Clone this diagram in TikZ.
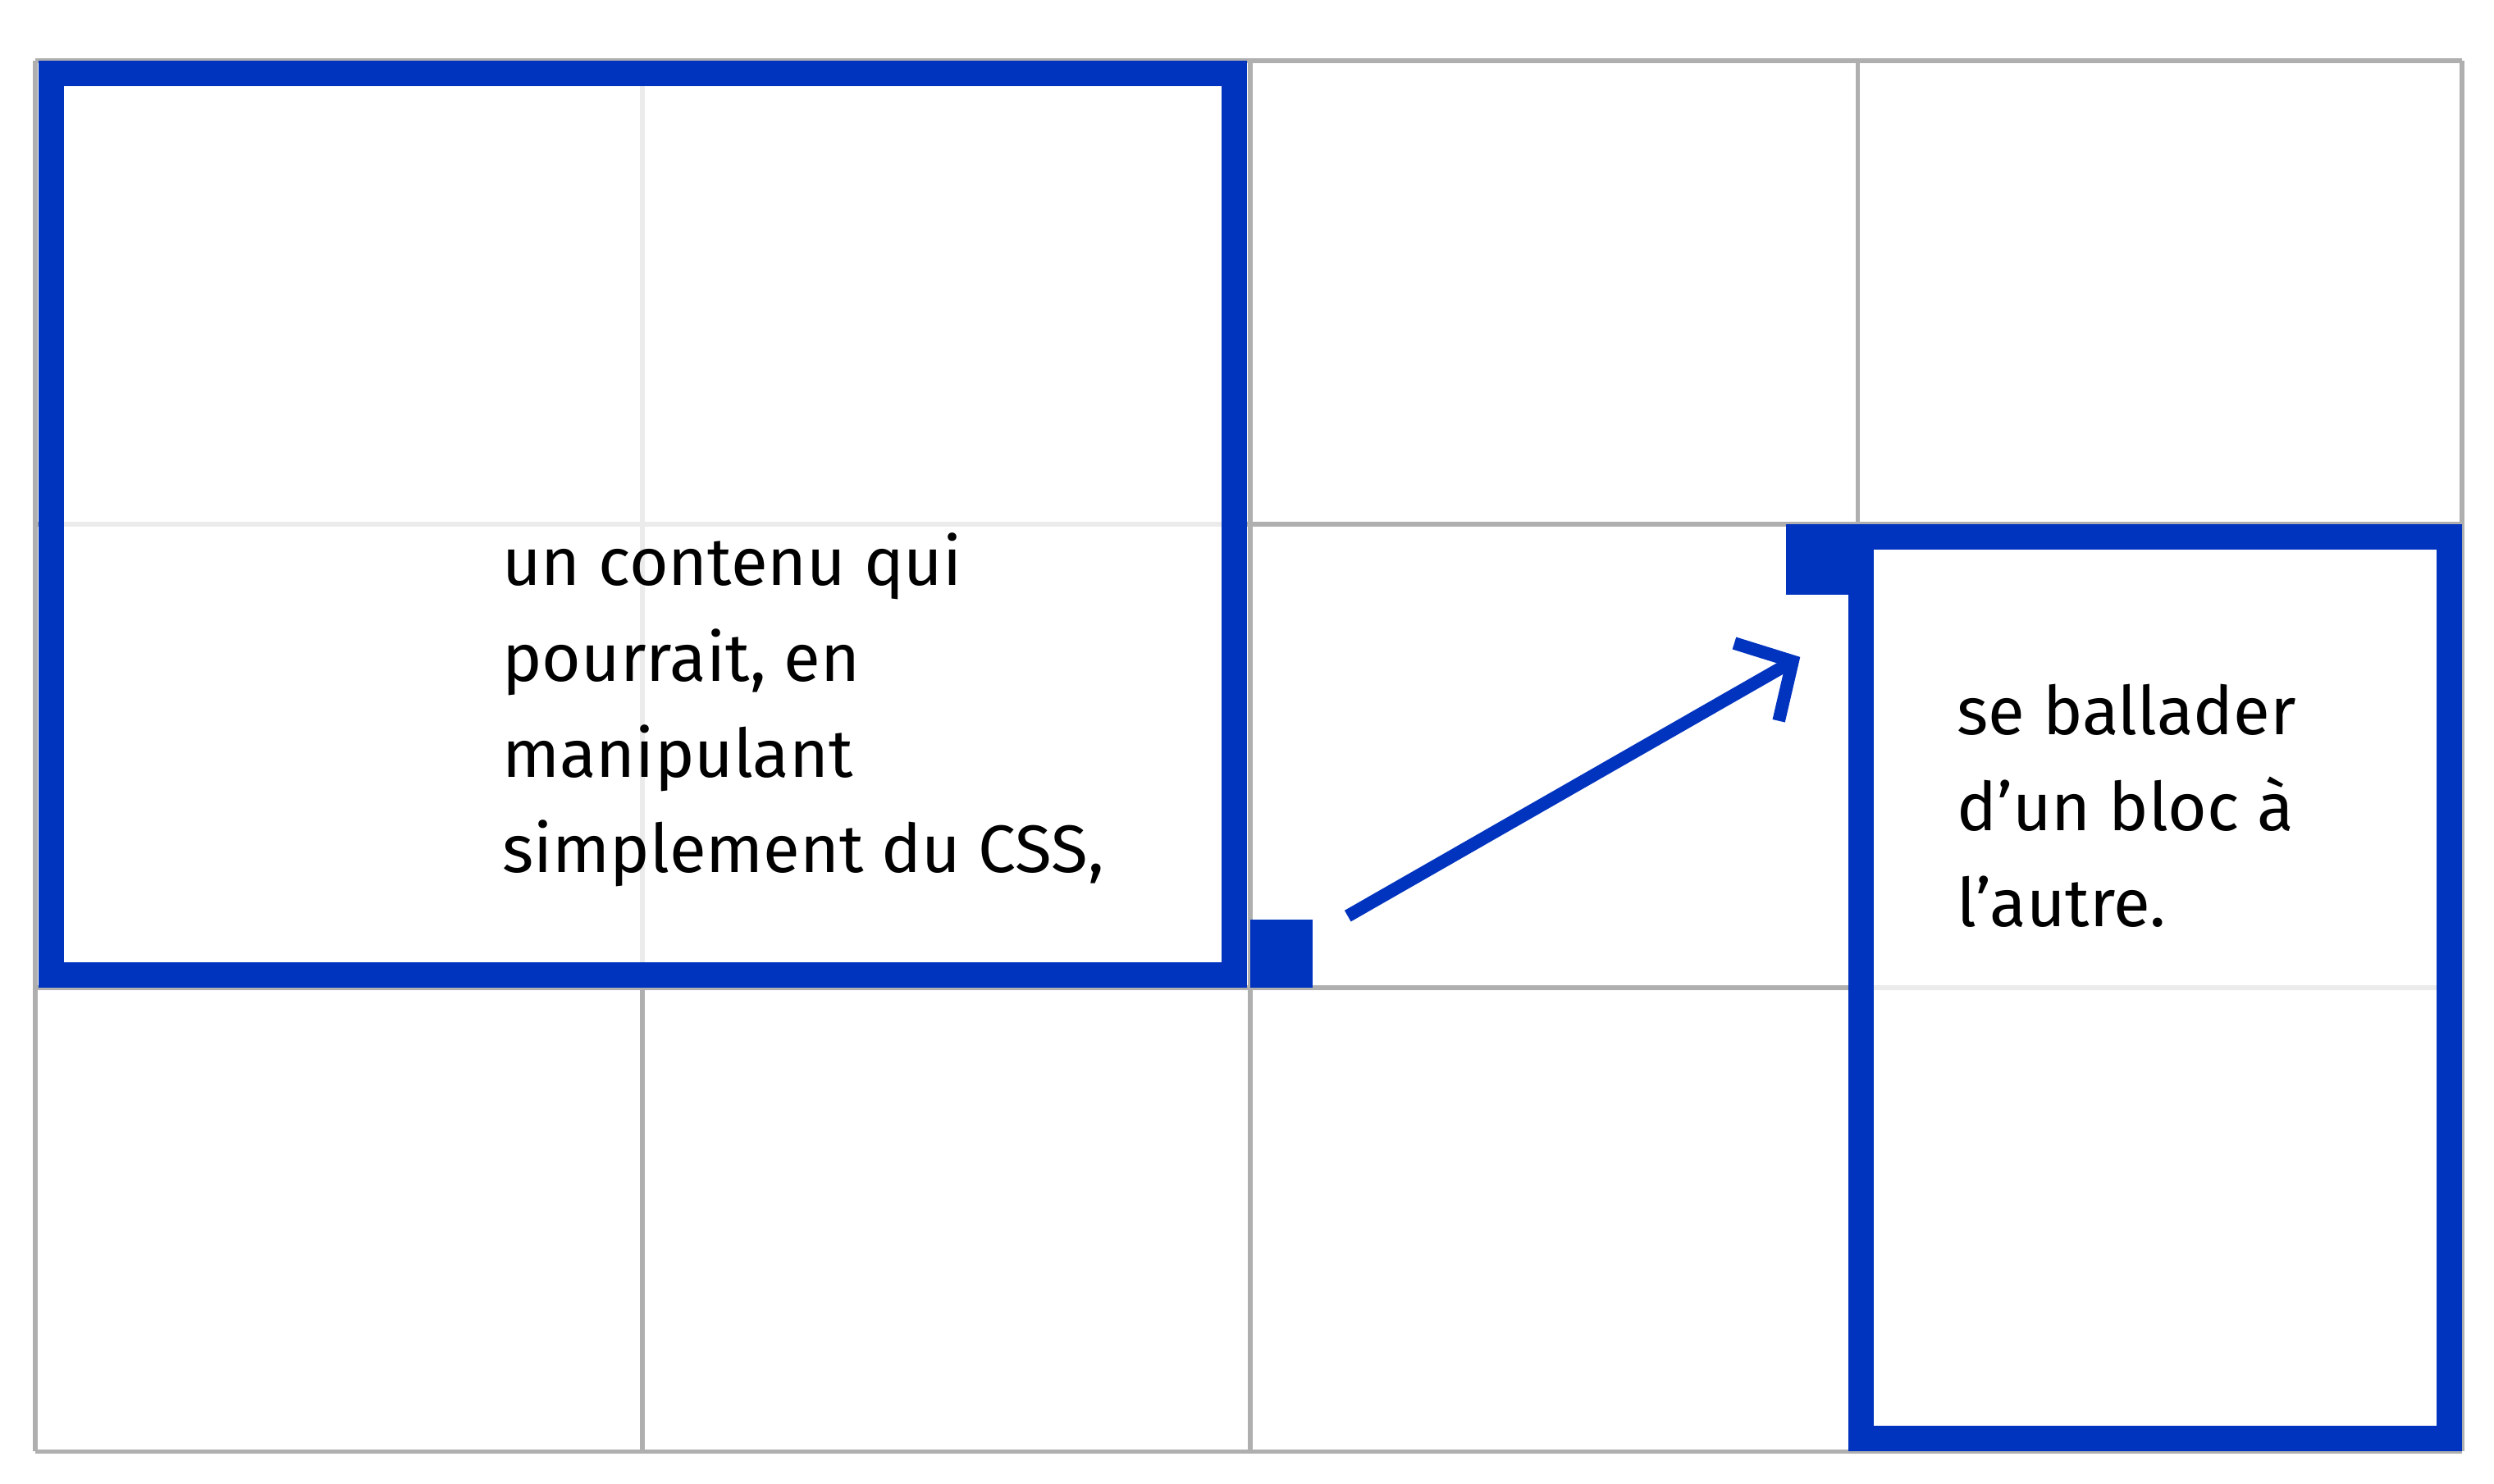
\documentclass[tikz,border=0pt]{standalone}
\usepackage{fontspec}
\setmainfont{Fira Sans}
\usetikzlibrary{arrows.meta}
\definecolor{bl}{RGB}{0,51,190}
\definecolor{dg}{RGB}{175,175,175}
\definecolor{lg}{RGB}{235,235,235}
\begin{document}
\begin{tikzpicture}[x=1pt,y=-1pt,
  grid/.style={dg,line width=3pt},
  lgrid/.style={lg,line width=3pt},
  blk/.style={bl,line width=16pt},
  txt/.style={anchor=north west,align=left,inner sep=0pt,font=\fontsize{42}{60}\selectfont}]
\useasboundingbox (0,0) rectangle (1560,928);
\fill[white] (0,0) rectangle (1560,928);
% grid
\foreach \x in {22,402,782,1162,1540} \draw[grid] (\x,38) -- (\x,908);
\foreach \y in {38,328,618,908} \draw[grid] (22,\y) -- (1540,\y);
\draw[lgrid] (402,46) -- (402,610);
\draw[lgrid] (32,328) -- (772,328);
\draw[lgrid] (1164,618) -- (1532,618);
% blocks
\draw[blk] (32,46) rectangle (772,610);
\draw[blk] (1164,336) rectangle (1532,900);
\fill[bl] (782,575) rectangle (821,618);
\fill[bl] (1117,328) rectangle (1156,372);
\node[txt] (t1) at (314,333) {un contenu qui\\pourrait, en\\manipulant\\simplement du CSS,};
\node[txt] (t2) at (1224,428) {se ballader\\d’un bloc à\\l’autre.};
\coordinate (a) at (843,573);
\coordinate (b) at (1126,411);
\draw[bl,line width=8pt,-{Straight Barb[length=26pt,width=56pt,line width=8pt]}] (a) -- (b);
\end{tikzpicture}
\end{document}
